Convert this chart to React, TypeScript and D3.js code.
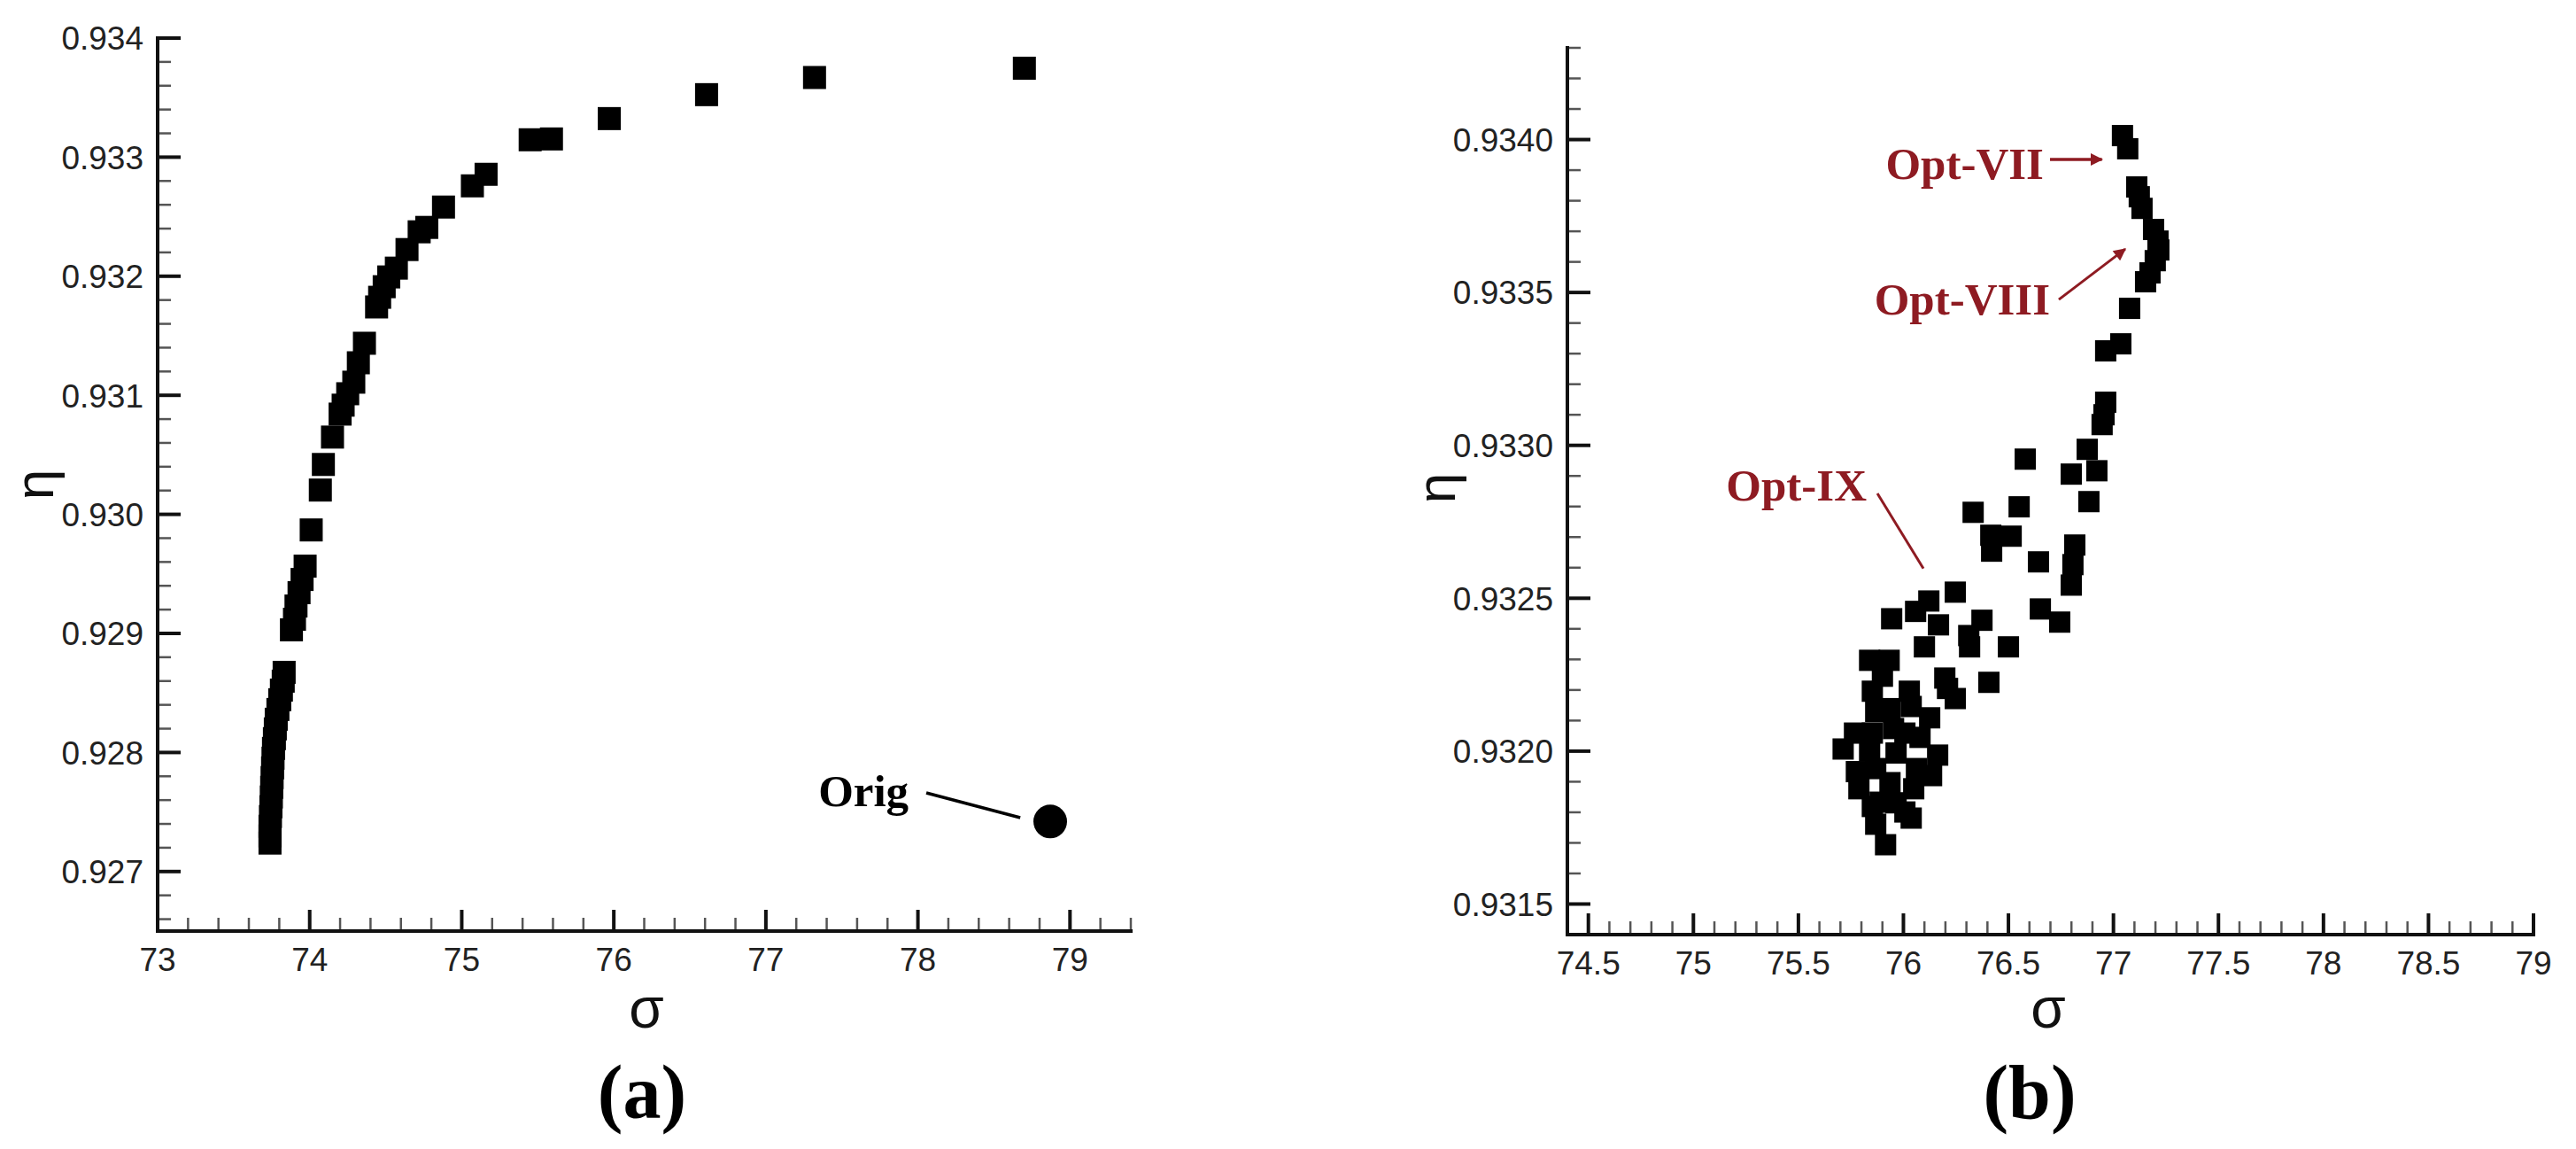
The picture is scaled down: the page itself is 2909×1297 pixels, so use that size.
import React from "react";
import * as d3 from "d3";

const W = 2909;
const H = 1297;

// ---- panel (a): sigma vs eta, Pareto front + original design
const sigmaA = [
  78.7, 77.32, 76.61, 75.97, 75.59, 75.45, 75.16, 75.07, 74.88, 74.77, 74.72, 74.64,
  74.57, 74.52, 74.49, 74.46, 74.44, 74.36, 74.32, 74.29, 74.25, 74.22, 74.2, 74.15,
  74.09, 74.07, 74.01, 73.97, 73.95, 73.93, 73.91, 73.9, 73.88, 73.832, 73.826, 73.814,
  73.803, 73.791, 73.78, 73.774, 73.768, 73.762, 73.759, 73.756, 73.753, 73.75, 73.748,
  73.745, 73.742, 73.739, 73.739, 73.739,
];
const etaA = [
  0.933747, 0.933669, 0.933525, 0.933324, 0.933153, 0.933146, 0.932856, 0.932759,
  0.932581, 0.93241, 0.932373, 0.932224, 0.932068, 0.931994, 0.931912, 0.931823,
  0.931742, 0.931437, 0.931273, 0.93111, 0.931013, 0.930917, 0.930842, 0.930649,
  0.930419, 0.930204, 0.929869, 0.929565, 0.929453, 0.929342, 0.92923, 0.929119,
  0.92903, 0.928673, 0.928599, 0.928524, 0.928443, 0.928361, 0.928279, 0.928198,
  0.928116, 0.928034, 0.927952, 0.927871, 0.927789, 0.927707, 0.927626, 0.927544,
  0.927462, 0.92738, 0.927299, 0.927239,
];
const origSigma = 78.87;
const origEta = 0.92742;

const xTicksA = [73, 74, 75, 76, 77, 78, 79];
const yTicksA = [0.927, 0.928, 0.929, 0.93, 0.931, 0.932, 0.933, 0.934];

// ---- panel (b): sigma vs eta, population
const sigmaB = [
  77.043, 77.068, 77.111, 77.123, 77.136, 77.191, 77.212, 77.216, 77.199, 77.174, 77.153,
  77.077, 77.035, 76.963, 76.963, 76.955, 76.946, 76.58, 76.875, 76.921, 76.799, 76.883,
  76.551, 76.332, 76.416, 76.513, 76.42, 76.643, 76.816, 76.807, 76.799, 76.652, 76.744,
  76.247, 76.121, 76.058, 75.944, 76.167, 76.374, 76.311, 76.315, 76.5, 76.1, 76.407,
  75.839, 75.932, 76.197, 76.247, 75.852, 76.028, 75.868, 76.037, 76.125, 75.767, 75.852,
  75.953, 76.007, 75.713, 75.839, 76.079, 76.163, 75.868, 76.062, 75.788, 75.936, 76.049,
  75.852, 76.037, 75.868, 75.915, 75.936, 75.965, 75.776, 75.965, 76.134, 76.007, 75.889,
  76.21, 75.9,
];
const etaB = [
  0.934013, 0.93397, 0.933845, 0.933813, 0.933775, 0.933706, 0.933668, 0.933639,
  0.933604, 0.933564, 0.933535, 0.933448, 0.933332, 0.933309, 0.933141, 0.9331,
  0.933068, 0.932955, 0.932987, 0.932917, 0.932906, 0.932816, 0.932799, 0.932781,
  0.932706, 0.932703, 0.932654, 0.932619, 0.932674, 0.93261, 0.932543, 0.932465,
  0.932422, 0.93252, 0.932491, 0.932457, 0.932433, 0.932413, 0.932428, 0.932378,
  0.932341, 0.932341, 0.932341, 0.932225, 0.932297, 0.932297, 0.932239, 0.932172,
  0.932196, 0.932196, 0.932129, 0.932146, 0.932109, 0.932059, 0.932059, 0.932074,
  0.932059, 0.932007, 0.932001, 0.932045, 0.931987, 0.931943, 0.931943, 0.931877,
  0.931897, 0.931877, 0.931819, 0.931781, 0.931761, 0.931694, 0.932139, 0.931994,
  0.931933, 0.931831, 0.93192, 0.931801, 0.931833, 0.932205, 0.932245,
];

const xTicksB = [74.5, 75, 75.5, 76, 76.5, 77, 77.5, 78, 78.5, 79];
const yTicksB = [0.9315, 0.932, 0.9325, 0.933, 0.9335, 0.934];

const SANS = '"Liberation Sans", Arial, sans-serif';
const SERIF = '"Liberation Serif", "Times New Roman", serif';
const RED = "#8e1b22";

const Axes = ({ x, y, xMajor, xMinor, yMajor, yMinor, xFmt, yFmt }) => {
  const [x0, x1] = x.range();
  const [yb, yt] = y.range();
  return (
    <g>
      {yMinor.map((t) => (
        <line key={"ym" + t} x1={x0} x2={x0 + 15} y1={y(t)} y2={y(t)} stroke="#555" strokeWidth={2.5} />
      ))}
      {xMinor.map((t) => (
        <line key={"xm" + t} x1={x(t)} x2={x(t)} y1={yb} y2={yb - 15} stroke="#555" strokeWidth={2.5} />
      ))}
      {yMajor.map((t) => (
        <g key={"yM" + t}>
          <line x1={x0} x2={x0 + 26} y1={y(t)} y2={y(t)} stroke="#111" strokeWidth={4} />
          <text x={x0 - 16} y={y(t)} dy="0.36em" textAnchor="end" fontFamily={SANS} fontSize={37} fill="#222">
            {yFmt(t)}
          </text>
        </g>
      ))}
      {xMajor.map((t) => (
        <g key={"xM" + t}>
          <line x1={x(t)} x2={x(t)} y1={yb} y2={yb - 24} stroke="#111" strokeWidth={4} />
          <text x={x(t)} y={yb + 45} textAnchor="middle" fontFamily={SANS} fontSize={37} fill="#222">
            {xFmt(t)}
          </text>
        </g>
      ))}
      <path d={`M${x0},${yt}V${yb}H${x1}`} fill="none" stroke="#111" strokeWidth={4} strokeLinecap="square" />
    </g>
  );
};

const App = () => {
  // panel (a) scales
  const xA = d3.scaleLinear().domain([73, 79.4]).range([178, 1277]);
  const yA = d3.scaleLinear().domain([0.9265, 0.934]).range([1051, 43]);
  const xMinorA = d3.range(0, 33).map((i) => +(73 + i * 0.2).toFixed(1)).filter((v) => !xTicksA.includes(v));
  const yMinorA = d3.range(0, 38).map((i) => +(0.9266 + i * 0.0002).toFixed(4)).filter((v) => !yTicksA.includes(v));

  // panel (b) scales
  const xB = d3.scaleLinear().domain([74.4, 79]).range([1770, 2861]);
  const yB = d3.scaleLinear().domain([0.9314, 0.9343]).range([1055, 54]);
  const xMinorB = d3.range(0, 46).map((i) => +(74.5 + i * 0.1).toFixed(1)).filter((v) => !xTicksB.includes(v) && v <= 79);
  const yMinorB = d3.range(0, 29).map((i) => +(0.9315 + i * 0.0001).toFixed(4)).filter((v) => !yTicksB.includes(v) && v <= 0.9343);

  const sqA = 26;
  const sqB = 24;

  return (
    <div style={{ position: "absolute", left: 0, top: 0, width: W, height: H, background: "#fff" }}>
      <svg width={W} height={H} style={{ display: "block" }}>
        <defs>
          <marker id="arrRed" viewBox="0 0 10 10" refX="9" refY="5" markerWidth="16" markerHeight="14" markerUnits="userSpaceOnUse" orient="auto">
            <path d="M0,0L10,5L0,10Z" fill={RED} />
          </marker>
        </defs>
        <rect width={W} height={H} fill="#fff" />

        {/* ---------- (a) ---------- */}
        <Axes x={xA} y={yA} xMajor={xTicksA} xMinor={xMinorA} yMajor={yTicksA} yMinor={yMinorA}
          xFmt={(d) => d3.format("d")(d)} yFmt={(d) => d3.format(".3f")(d)} />
        {sigmaA.map((s, i) => (
          <rect key={"a" + i} x={xA(s) - sqA / 2} y={yA(etaA[i]) - sqA / 2} width={sqA} height={sqA} fill="#000" />
        ))}
        <circle cx={xA(origSigma)} cy={yA(origEta)} r={19} fill="#000" />
        <line x1={xA(78.055)} y1={yA(0.927661)} x2={xA(78.673)} y2={yA(0.927452)} stroke="#000" strokeWidth={3.5} />
        <text x={xA(77.939)} y={yA(0.927549)} textAnchor="end" fontFamily={SERIF} fontWeight="bold" fontSize={51} fill="#000">
          Orig
        </text>
        <text transform={`translate(60,${(yA(0.9265) + yA(0.934)) / 2})rotate(-90)`} textAnchor="middle" fontFamily={SANS} fontSize={62} fill="#111">
          η
        </text>
        <text x={730} y={1160} textAnchor="middle" fontFamily={SANS} fontSize={64} fill="#111">σ</text>
        <text x={725} y={1262} textAnchor="middle" fontFamily={SERIF} fontWeight="bold" fontSize={86} fill="#000">(a)</text>

        {/* ---------- (b) ---------- */}
        <Axes x={xB} y={yB} xMajor={xTicksB} xMinor={xMinorB} yMajor={yTicksB} yMinor={yMinorB}
          xFmt={(d) => String(d)} yFmt={(d) => d3.format(".4f")(d)} />
        {sigmaB.map((s, i) => (
          <rect key={"b" + i} x={xB(s) - sqB / 2} y={yB(etaB[i]) - sqB / 2} width={sqB} height={sqB} fill="#000" />
        ))}
        <line x1={xB(76.698)} y1={yB(0.933935)} x2={xB(76.945)} y2={yB(0.933935)} stroke={RED} strokeWidth={3.5} markerEnd="url(#arrRed)" />
        <text x={xB(76.668)} y={yB(0.933871)} textAnchor="end" fontFamily={SERIF} fontWeight="bold" fontSize={51} fill={RED}>Opt-VII</text>
        <line x1={xB(76.74)} y1={yB(0.933477)} x2={xB(77.056)} y2={yB(0.933642)} stroke={RED} strokeWidth={3} markerEnd="url(#arrRed)" />
        <text x={xB(76.698)} y={yB(0.933428)} textAnchor="end" fontFamily={SERIF} fontWeight="bold" fontSize={51} fill={RED}>Opt-VIII</text>
        <line x1={xB(75.876)} y1={yB(0.932843)} x2={xB(76.095)} y2={yB(0.932597)} stroke={RED} strokeWidth={3} />
        <text x={xB(75.825)} y={yB(0.93282)} textAnchor="end" fontFamily={SERIF} fontWeight="bold" fontSize={51} fill={RED}>Opt-IX</text>
        <text transform={`translate(1643,551)rotate(-90)`} textAnchor="middle" fontFamily={SANS} fontSize={62} fill="#111">
          η
        </text>
        <text x={2313} y={1160} textAnchor="middle" fontFamily={SANS} fontSize={64} fill="#111">σ</text>
        <text x={2292} y={1262} textAnchor="middle" fontFamily={SERIF} fontWeight="bold" fontSize={86} fill="#000">(b)</text>
      </svg>
    </div>
  );
};

export default App;
